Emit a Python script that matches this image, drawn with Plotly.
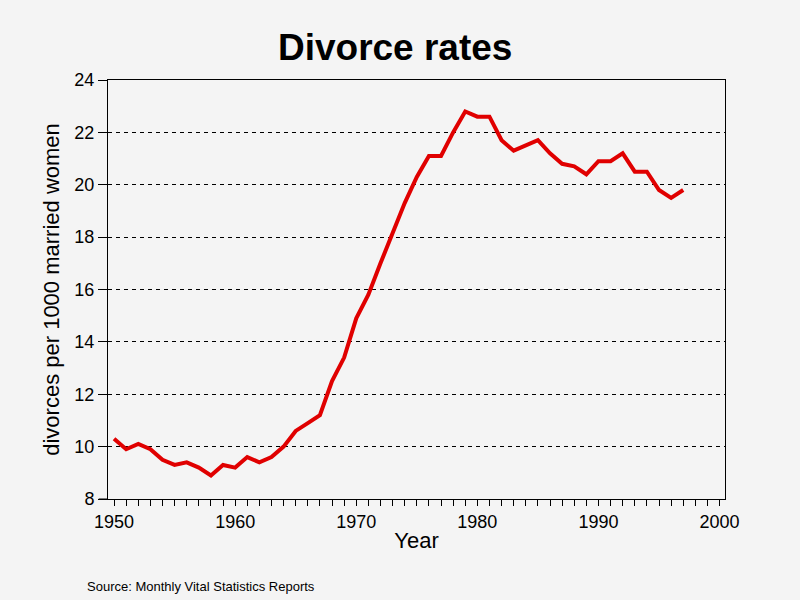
import plotly.graph_objects as go

# divorces per 1000 married women
years = list(range(1950, 1998))
rates = [10.3, 9.9, 10.1, 9.9, 9.5, 9.3, 9.4, 9.2, 8.9, 9.3,
         9.2, 9.6, 9.4, 9.6, 10.0, 10.6, 10.9, 11.2, 12.5, 13.4,
         14.9, 15.8, 17.0, 18.2, 19.3, 20.3, 21.1, 21.1, 22.0, 22.8,
         22.6, 22.6, 21.7, 21.3, 21.5, 21.7, 21.2, 20.8, 20.7, 20.4,
         20.9, 20.9, 21.2, 20.5, 20.5, 19.8, 19.5, 19.8]

x_ticks = [1950, 1960, 1970, 1980, 1990, 2000]
y_ticks = [8, 10, 12, 14, 16, 18, 20, 22, 24]

BG = "#f4f4f4"
FONT = "Liberation Sans, Arial, sans-serif"

fig = go.Figure()
fig.add_trace(go.Scatter(x=years, y=rates, mode="lines",
                         line=dict(color="#e00000", width=4),
                         showlegend=False))

fig.update_layout(
    width=800, height=600,
    paper_bgcolor=BG, plot_bgcolor=BG,
    margin=dict(l=108, r=75, t=80, b=101),
    font=dict(family=FONT, size=18, color="black"),
    title=dict(text="<b>Divorce rates</b>", x=0.494, xanchor="center",
               y=0.921, yanchor="middle", font=dict(size=37)),
)

fig.update_xaxes(
    range=[1949.5, 2000.45], tickvals=x_ticks,
    ticks="outside", ticklen=6, tickcolor="black",
    minor=dict(dtick=1, ticks="outside", ticklen=6, tickcolor="black"),
    showgrid=False, zeroline=False,
    showline=True, linecolor="black", linewidth=1, mirror=True,
    title=dict(text="Year", standoff=2),
)
fig.update_yaxes(
    range=[8, 24], tickvals=y_ticks,
    ticks="outside", ticklen=9, tickcolor="black",
    showgrid=True, gridcolor="black", gridwidth=1, griddash="4px,4px",
    zeroline=False,
    showline=True, linecolor="black", linewidth=1, mirror=True,
    title=dict(text="divorces per 1000 married women", standoff=8),
)

# x axis line runs a little past the left edge of the frame
fig.add_shape(type="line", xref="paper", yref="paper",
              x0=-0.015, x1=0, y0=0, y1=0,
              line=dict(color="black", width=1))

fig.add_annotation(text="Source: Monthly Vital Statistics Reports",
                   xref="paper", yref="paper", x=-0.037, y=-0.208,
                   xanchor="left", yanchor="middle", showarrow=False,
                   font=dict(size=13))

fig.write_html("out.html", config={"displayModeBar": False},
               post_script="document.body.style.margin='0';")
